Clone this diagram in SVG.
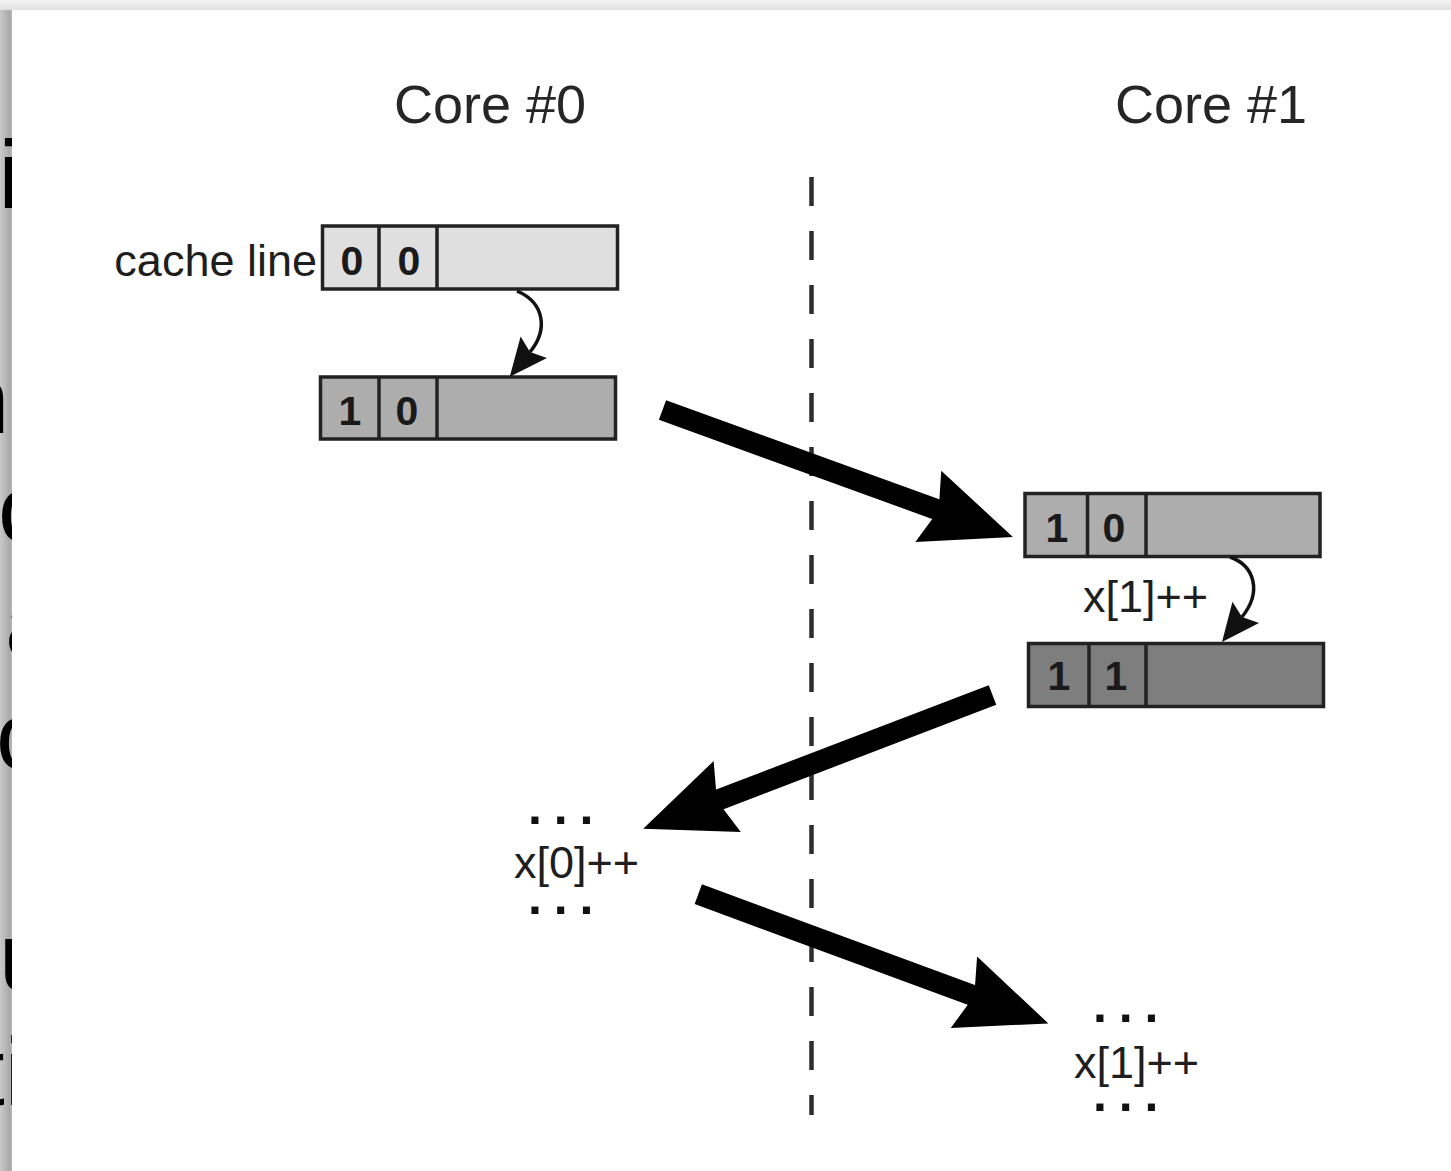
<svg xmlns="http://www.w3.org/2000/svg" width="1451" height="1171" viewBox="0 0 1451 1171">
  <style>
    .title { font-family: "Liberation Sans", Arial, sans-serif; font-size: 54px; fill: #262626; text-anchor: middle; }
    .lbl { font-family: "Liberation Sans", Arial, sans-serif; font-size: 45px; fill: #1e1e1e; }
    .dig { font-family: "Liberation Sans", Arial, sans-serif; font-size: 41px; font-weight: bold; fill: #1a1a1a; text-anchor: middle; }
    .dots { font-family: "Liberation Sans", Arial, sans-serif; font-size: 50px; font-weight: bold; fill: #111; letter-spacing: 11.8px; }
    .frag { font-family: "Liberation Sans", Arial, sans-serif; font-size: 96px; fill: #000; }
    .box { stroke: #222; stroke-width: 3.5; }
    .div { stroke: #222; stroke-width: 3.5; }
    .big { stroke: #000; stroke-width: 21; fill: none; marker-end: url(#bighead); }
    .small { stroke: #111; stroke-width: 3.5; fill: none; marker-end: url(#smallhead); }
  </style>
  <defs>
    <linearGradient id="leftStrip" x1="0" y1="0" x2="1" y2="0">
      <stop offset="0" stop-color="#c9c9c9"/>
      <stop offset="0.8" stop-color="#a9a9a9"/>
      <stop offset="1" stop-color="#b8b8b8"/>
    </linearGradient>
    <linearGradient id="topStrip" x1="0" y1="0" x2="0" y2="1">
      <stop offset="0" stop-color="#f3f3f3"/>
      <stop offset="1" stop-color="#e0e0e0"/>
    </linearGradient>
    <clipPath id="stripClip">
      <rect x="0" y="10" width="12" height="1161"/>
    </clipPath>
    <marker id="bighead" markerUnits="userSpaceOnUse" viewBox="-12 -40 95 80" markerWidth="95" markerHeight="80" refX="0" refY="0" orient="auto" overflow="visible">
      <path d="M-2,-10.5 L-10,-38 L80,0 L-10,38 L-2,10.5 Z" fill="#000"/>
    </marker>
    <marker id="smallhead" markerUnits="userSpaceOnUse" viewBox="-8 -18 42 36" markerWidth="42" markerHeight="36" refX="0" refY="0" orient="auto" overflow="visible">
      <path d="M32,0 L-6,-17 L0,0 L-6,17 Z" fill="#111"/>
    </marker>
  </defs>

  <!-- page background / shadow edges -->
  <rect x="0" y="0" width="1451" height="1171" fill="#e6e6e6"/>
  <rect x="0" y="0" width="1451" height="10" fill="url(#topStrip)"/>
  <rect x="0" y="10" width="12" height="1161" fill="url(#leftStrip)"/>
  <rect x="12" y="10" width="1439" height="1161" fill="#ffffff"/>

  <!-- text fragments of the page behind, cut by the page edge -->
  <g id="edge-fragments" clip-path="url(#stripClip)">
    <text class="frag" x="-1.5" y="208">i</text>
    <text class="frag" x="-44" y="433">n</text>
    <text class="frag" x="-2" y="542">c</text>
    <text class="frag" x="5" y="656">a</text>
    <text class="frag" x="-4" y="769">c</text>
    <text class="frag" x="-1" y="990">u</text>
    <text class="frag" x="-22" y="1105">ti</text>
  </g>

  <!-- titles -->
  <g id="title-core0"><text class="title" x="490" y="123">Core #0</text></g>
  <g id="title-core1"><text class="title" x="1211" y="123">Core #1</text></g>

  <!-- divider -->
  <g id="divider">
    <line x1="811.5" y1="177" x2="811.5" y2="1115" stroke="#2e2e2e" stroke-width="4.5" stroke-dasharray="29 25"/>
  </g>

  <!-- cache line label -->
  <g id="label-cacheline"><text class="lbl" x="317" y="276" text-anchor="end">cache line</text></g>

  <!-- Box A: 0 0 -->
  <g id="boxA">
    <rect class="box" x="322.5" y="226" width="295" height="63" fill="#dfdfdf"/>
    <line class="div" x1="379" y1="226" x2="379" y2="289"/>
    <line class="div" x1="437" y1="226" x2="437" y2="289"/>
    <text class="dig" x="352" y="275">0</text>
    <text class="dig" x="409" y="275">0</text>
  </g>

  <!-- Box B: 1 0 -->
  <g id="boxB">
    <rect class="box" x="320.5" y="377" width="295" height="62" fill="#adadad"/>
    <line class="div" x1="379" y1="377" x2="379" y2="439"/>
    <line class="div" x1="437" y1="377" x2="437" y2="439"/>
    <text class="dig" x="350" y="425">1</text>
    <text class="dig" x="407" y="425">0</text>
  </g>

  <!-- Box C: 1 0 -->
  <g id="boxC">
    <rect class="box" x="1025" y="493.5" width="295" height="63" fill="#adadad"/>
    <line class="div" x1="1087.5" y1="493.5" x2="1087.5" y2="556.5"/>
    <line class="div" x1="1146" y1="493.5" x2="1146" y2="556.5"/>
    <text class="dig" x="1057" y="542">1</text>
    <text class="dig" x="1114" y="542">0</text>
  </g>

  <!-- Box D: 1 1 -->
  <g id="boxD">
    <rect class="box" x="1028.5" y="643.5" width="295" height="63" fill="#7e7e7e"/>
    <line class="div" x1="1089" y1="643.5" x2="1089" y2="706.5"/>
    <line class="div" x1="1146" y1="643.5" x2="1146" y2="706.5"/>
    <text class="dig" x="1059" y="690">1</text>
    <text class="dig" x="1116" y="690">1</text>
  </g>

  <!-- x[1]++ label between C and D -->
  <g id="label-x1-inc"><text class="lbl" x="1083" y="612">x[1]++</text></g>

  <!-- x[0]++ code block -->
  <g id="code-x0">
    <text class="dots" x="528" y="824">...</text>
    <text class="lbl" x="514" y="878">x[0]++</text>
    <text class="dots" x="528" y="914">...</text>
  </g>

  <!-- x[1]++ code block -->
  <g id="code-x1">
    <text class="dots" x="1093" y="1022">...</text>
    <text class="lbl" x="1074" y="1078">x[1]++</text>
    <text class="dots" x="1093" y="1111">...</text>
  </g>

  <!-- connectors -->
  <g id="connectors">
    <path class="small" d="M517,291 C545,303 548,330 530,352"/>
    <path class="small" d="M1230,557 C1255,566 1262,592 1242,617"/>
    <line class="big" x1="662.5" y1="410" x2="937.7" y2="509.8"/>
    <line class="big" x1="992.5" y1="695" x2="717.9" y2="800.1"/>
    <line class="big" x1="698.3" y1="894.2" x2="973.3" y2="995.7"/>
  </g>
</svg>
